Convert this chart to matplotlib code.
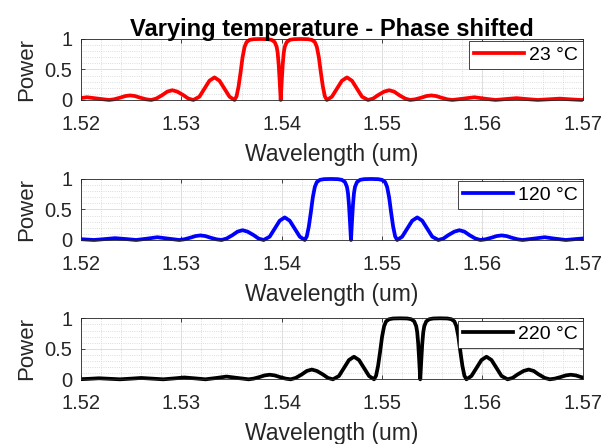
import numpy as np
import matplotlib
matplotlib.use('Agg')
import matplotlib.pyplot as plt
from matplotlib.ticker import MultipleLocator
from matplotlib.transforms import Bbox, TransformedBbox

# reflection of the phase shifted grating
# offset from the notch (um) and power, one side only (spectrum is symmetric)
offset = [0.0000, 0.0001, 0.0002, 0.0003, 0.0004, 0.0006, 0.0009, 0.0013, 0.0020,
          0.0027, 0.0031, 0.0034, 0.0036, 0.0038, 0.0040, 0.0042, 0.0044, 0.0046,
          0.0051, 0.0056, 0.0061, 0.0066, 0.0071, 0.0076, 0.0081, 0.0087,
          0.0092, 0.0097, 0.0103, 0.0108, 0.0113, 0.0118, 0.0124, 0.0129,
          0.0134, 0.0140, 0.0145, 0.0150, 0.0155, 0.0160, 0.0166, 0.0171,
          0.0182, 0.0193, 0.0203, 0.0214,
          0.0224, 0.0235, 0.0245, 0.0256,
          0.0267, 0.0278, 0.0288, 0.0299,
          0.0309, 0.0320, 0.0330, 0.0341,
          0.0352, 0.0363, 0.0373, 0.0384]
power = [0.00, 0.30, 0.58, 0.77, 0.87, 0.95, 0.985, 0.997, 1.00,
         0.997, 0.985, 0.95, 0.87, 0.70, 0.45, 0.22, 0.06, 0.00,
         0.054, 0.185, 0.316, 0.37, 0.316, 0.185, 0.054, 0.00,
         0.023, 0.08, 0.137, 0.16, 0.137, 0.08, 0.023, 0.00,
         0.011, 0.038, 0.064, 0.075, 0.064, 0.038, 0.011, 0.00,
         0.022, 0.045, 0.022, 0.00,
         0.015, 0.030, 0.015, 0.00,
         0.011, 0.022, 0.011, 0.00,
         0.008, 0.017, 0.008, 0.00,
         0.007, 0.014, 0.007, 0.00]

temps = ['23 °C', '120 °C', '220 °C']
centers = [1.5399, 1.5469, 1.5538]   # notch position for each temperature
colors = ['red', 'blue', 'black']
xticks = [1.52, 1.53, 1.54, 1.55, 1.56, 1.57]

d = np.array(offset)
p = np.array(power)
d_full = np.concatenate([-d[::-1], d[1:]])
p_full = np.concatenate([p[::-1], p[1:]])

plt.rcParams['font.family'] = ['Liberation Sans', 'DejaVu Sans']
txt = '#262626'

fig = plt.figure(figsize=(6.04, 4.44), dpi=100)
bottoms = [0.7748, 0.4595, 0.1457]

for i in range(3):
    ax = fig.add_axes([0.134, bottoms[i], 0.831, 0.1374])
    line, = ax.plot(centers[i] + d_full, p_full, color=colors[i], lw=2.7, label=temps[i])
    # let the thick line spill a little over the top/bottom like matlab does
    line.set_clip_box(TransformedBbox(Bbox([[0, -0.06], [1, 1.06]]), ax.transAxes))
    ax.set_xlim(1.52, 1.57)
    ax.set_ylim(0, 1)
    ax.set_xticks(xticks)
    ax.set_xticklabels(['%.2f' % x for x in xticks])
    ax.set_yticks([0, 0.5, 1])
    ax.set_yticklabels(['0', '0.5', '1'])
    ax.xaxis.set_minor_locator(MultipleLocator(0.002))
    ax.yaxis.set_minor_locator(MultipleLocator(0.1))
    ax.grid(True, which='major', color='#dedede', lw=0.7, ls='-')
    ax.grid(True, which='minor', color='#d2d2d2', lw=0.6, ls=':')
    ax.set_axisbelow(True)
    ax.tick_params(which='major', direction='in', length=3, width=0.6, top=True, right=True,
                   labelsize=14.5, colors=txt)
    ax.tick_params(axis='x', which='major', pad=10.5)
    ax.tick_params(axis='y', which='major', pad=6)
    ax.tick_params(which='minor', length=0)
    for s in ax.spines.values():
        s.set_color(txt)
        s.set_linewidth(0.6)
    ax.set_xlabel('Wavelength (um)', fontsize=16.5, color=txt, labelpad=6.5)
    ax.set_ylabel('Power', fontsize=16, color=txt, labelpad=5.5)
    leg = ax.legend(loc='upper right', bbox_to_anchor=(1.0, 0.96), borderaxespad=0,
                    fontsize=14, fancybox=False, framealpha=1, edgecolor=txt,
                    handlelength=2.6, handletextpad=0.25, borderpad=0.25)
    leg.get_frame().set_linewidth(0.6)
    for t in leg.get_texts():
        t.set_color('black')
    if i == 0:
        ax.set_title('Varying temperature - Phase shifted', fontsize=17,
                     fontweight='bold', color='black', pad=2.5)

fig.savefig('out.png', dpi=100)
